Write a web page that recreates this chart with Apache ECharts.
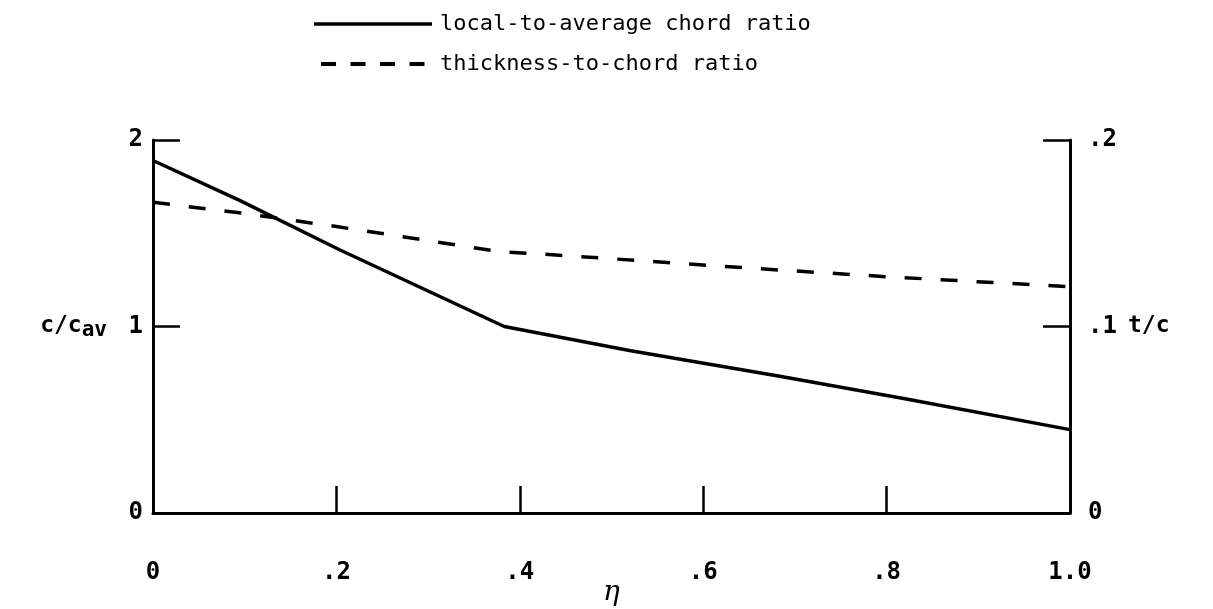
<!DOCTYPE html>
<html>
<head>
<meta charset="utf-8">
<script src="https://cdn.jsdelivr.net/npm/echarts@6/dist/echarts.min.js"></script>
<style>
html,body{margin:0;padding:0;background:#fff;}
#chart{width:1213px;height:609px;}
</style>
</head>
<body>
<div id="chart"></div>
<script>
// Data
const seriesNames = ["local-to-average chord ratio", "thickness-to-chord ratio"];
const chordEta = [0, 0.095, 0.204, 0.383, 0.521, 0.685, 0.82, 1.0];
const chordRatio = [1.89, 1.675, 1.41, 1.0, 0.87, 0.732, 0.613, 0.447];
const thickEta = [0, 0.1, 0.2, 0.38, 0.42, 0.6, 0.66, 0.8, 1.0];
const thickRatio = [0.1666, 0.1606, 0.1536, 0.140, 0.139, 0.133, 0.131, 0.1267, 0.1213];
const xTickLabels = {"0": "0", "0.2": ".2", "0.4": ".4", "0.6": ".6", "0.8": ".8", "1": "1.0"};
const leftTickLabels = {"0": "0", "1": "1", "2": "2"};
const rightTickLabels = {"0": "0", "0.1": ".1", "0.2": ".2"};

const FONT = "DejaVu Sans Mono";
const chart = echarts.init(document.getElementById('chart'), null, {renderer: 'canvas'});

const axisLine = {show: true, onZero: false, lineStyle: {color: '#000', width: 3}};
const axisTick = {show: true, inside: true, length: 27, lineStyle: {color: '#000', width: 2.5}};
const labelStyle = {color: '#000', fontFamily: FONT, fontSize: 24, fontWeight: 'bold'};

chart.setOption({
  backgroundColor: '#fff',
  animation: false,
  legend: {
    orient: 'vertical',
    left: 307,
    top: 8,
    itemWidth: 118,
    itemHeight: 14,
    itemGap: 18,
    itemStyle: {color: 'transparent', borderWidth: 0, opacity: 0},
    lineStyle: {width: 3.5},
    textStyle: {color: '#000', fontFamily: FONT, fontSize: 22, padding: [0, 0, 0, 3]},
    data: [
      {name: seriesNames[0]},
      {name: seriesNames[1], lineStyle: {type: [15, 14.5], dashOffset: 22.5, width: 4}}
    ]
  },
  grid: {left: 153, right: 143, top: 140, bottom: 96, containLabel: false, outerBoundsMode: 'none'},
  xAxis: {
    type: 'value', min: 0, max: 1, interval: 0.2,
    name: 'η', nameLocation: 'middle', nameGap: 80, nameMoveOverlap: false,
    nameTextStyle: {color: '#000', fontFamily: 'DejaVu Serif', fontStyle: 'italic', fontSize: 28, verticalAlign: 'middle'},
    axisLine: axisLine, axisTick: axisTick,
    splitLine: {show: false},
    axisLabel: Object.assign({margin: 48, formatter: v => xTickLabels[String(+v.toFixed(1))] ?? ''}, labelStyle)
  },
  yAxis: [{
    type: 'value', min: 0, max: 2, interval: 1, position: 'left',
    name: '{m|c/c}{s|av}', nameLocation: 'middle', nameRotate: 0, nameGap: 46, nameMoveOverlap: false,
    nameTextStyle: {
      color: '#000',
      rich: {
        m: {fontFamily: FONT, fontSize: 23, fontWeight: 'bold', color: '#000'},
        s: {fontFamily: FONT, fontSize: 21, fontWeight: 'bold', color: '#000', verticalAlign: 'bottom', padding: [8, 0, 0, 0]}
      }
    },
    axisLine: axisLine, axisTick: axisTick,
    splitLine: {show: false},
    axisLabel: Object.assign({margin: 10, formatter: v => leftTickLabels[String(v)] ?? ''}, labelStyle)
  }, {
    type: 'value', min: 0, max: 0.2, interval: 0.1, position: 'right',
    name: 't/c', nameLocation: 'middle', nameRotate: 0, nameGap: 58, nameMoveOverlap: false,
    nameTextStyle: {color: '#000', fontFamily: FONT, fontSize: 23, fontWeight: 'bold'},
    axisLine: axisLine, axisTick: axisTick,
    splitLine: {show: false},
    axisLabel: Object.assign({margin: 18, formatter: v => rightTickLabels[String(+v.toFixed(1))] ?? ''}, labelStyle)
  }],
  series: [{
    name: seriesNames[0],
    type: 'line',
    yAxisIndex: 0,
    data: chordEta.map((x, i) => [x, chordRatio[i]]),
    symbol: 'none',
    lineStyle: {color: '#000', width: 3.5, type: 'solid'},
    itemStyle: {color: '#000'}
  }, {
    name: seriesNames[1],
    type: 'line',
    yAxisIndex: 1,
    data: thickEta.map((x, i) => [x, thickRatio[i]]),
    symbol: 'none',
    lineStyle: {color: '#000', width: 3.5, type: [17, 19]},
    itemStyle: {color: '#000'}
  }]
});
</script>
</body>
</html>
